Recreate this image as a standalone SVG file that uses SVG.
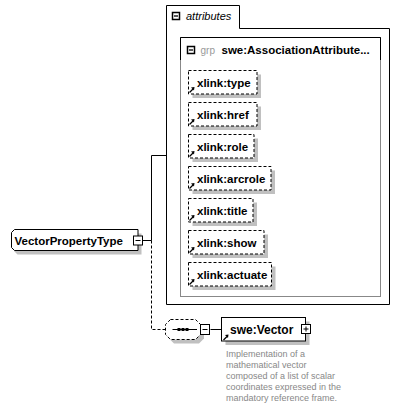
<svg xmlns="http://www.w3.org/2000/svg" width="400" height="408" viewBox="0 0 400 408">
<style>
.bg{fill:#ffffff}
.lbl{font-family:"Liberation Sans",Arial,sans-serif;font-weight:bold;font-size:11.5px;fill:#000}
.it{font-family:"Liberation Sans",Arial,sans-serif;font-style:italic;font-size:11px;fill:#000}
.grp{font-family:"Liberation Sans",Arial,sans-serif;font-size:10px;fill:#999}
.doc{font-family:"Liberation Sans",Arial,sans-serif;font-size:9px;fill:#888}
.attr{fill:#fff;stroke:#000;stroke-width:1;stroke-dasharray:3,2}
.shadow{fill:#c0c0c0}
.solid{fill:none;stroke:#000;stroke-width:1}
.dash{fill:none;stroke:#000;stroke-width:1;stroke-dasharray:3,2}
.btn{fill:#fff;stroke:#000;stroke-width:1}
</style>
<defs>
<g id="ref">
<path d="M0.5,5.5 L4,2" stroke="#000" stroke-width="1.2" fill="none"/>
<polygon points="2,0.5 5.5,0 5,3.5" fill="#000"/>
</g>
</defs>
<rect width="400" height="408" class="bg"/>

<g id="connectors">
<path class="solid" d="M142.5,240.5 H151.5 V155.5 H166.5"/>
<path class="dash" d="M151.5,240.5 V329.5 H165.5"/>
<path class="solid" d="M210.5,329.5 H221.5"/>
</g>

<g id="attributes">
<path class="solid" d="M166.5,5.5 H239.5 V28.5 H389.5 V304.5 H166.5 Z" fill="#fff"/>
<rect x="172.5" y="12.5" width="7" height="7" fill="#fff" stroke="#000" stroke-width="1.5"/>
<line x1="174" y1="16" x2="178" y2="16" stroke="#000" stroke-width="1.3"/>
<text class="it" x="186" y="20">attributes</text>
</g>

<g id="group">
<rect x="180.5" y="37.5" width="200" height="259" fill="#fff" stroke="#888" stroke-width="1"/>
<path class="solid" d="M180.5,60 V37.5 H380.5 V60"/>
<rect x="187.5" y="46.5" width="7" height="7" fill="#fff" stroke="#000" stroke-width="1.5"/>
<line x1="189" y1="50" x2="193" y2="50" stroke="#000" stroke-width="1.3"/>
<text class="grp" x="200.5" y="54">grp</text>
<text class="lbl" x="221.5" y="54">swe:AssociationAttribute...</text>
</g>

<g id="xlink-type">
<rect class="shadow" x="192.5" y="74.5" width="68.5" height="23.5"/>
<rect class="attr" x="188.5" y="70.5" width="68.5" height="23.5"/>
<use href="#ref" x="189" y="87"/>
<text class="lbl" x="197" y="86.5">xlink:type</text>
</g>
<g id="xlink-href">
<rect class="shadow" x="192.5" y="106.5" width="68.5" height="23.5"/>
<rect class="attr" x="188.5" y="102.5" width="68.5" height="23.5"/>
<use href="#ref" x="189" y="119"/>
<text class="lbl" x="197" y="118.5">xlink:href</text>
</g>
<g id="xlink-role">
<rect class="shadow" x="192.5" y="138.5" width="65.5" height="23.5"/>
<rect class="attr" x="188.5" y="134.5" width="65.5" height="23.5"/>
<use href="#ref" x="189" y="151"/>
<text class="lbl" x="197" y="150.5">xlink:role</text>
</g>
<g id="xlink-arcrole">
<rect class="shadow" x="192.5" y="170.5" width="82.5" height="23.5"/>
<rect class="attr" x="188.5" y="166.5" width="82.5" height="23.5"/>
<use href="#ref" x="189" y="183"/>
<text class="lbl" x="197" y="182.5">xlink:arcrole</text>
</g>
<g id="xlink-title">
<rect class="shadow" x="192.5" y="202.5" width="64.5" height="23.5"/>
<rect class="attr" x="188.5" y="198.5" width="64.5" height="23.5"/>
<use href="#ref" x="189" y="215"/>
<text class="lbl" x="197" y="214.5">xlink:title</text>
</g>
<g id="xlink-show">
<rect class="shadow" x="192.5" y="234.5" width="75.5" height="23.5"/>
<rect class="attr" x="188.5" y="230.5" width="75.5" height="23.5"/>
<use href="#ref" x="189" y="247"/>
<text class="lbl" x="197" y="246.5">xlink:show</text>
</g>
<g id="xlink-actuate">
<rect class="shadow" x="192.5" y="266.5" width="83" height="23.5"/>
<rect class="attr" x="188.5" y="262.5" width="83" height="23.5"/>
<use href="#ref" x="189" y="279"/>
<text class="lbl" x="197" y="278.5">xlink:actuate</text>
</g>

<g id="VectorPropertyType">
<path class="shadow" d="M17.5,233.5 H141.5 V254.5 H17.5 L14.5,251.5 V236.5 Z"/>
<path d="M14.5,229.5 H138 V250.5 H14.5 L11.5,247.5 V232.5 Z" fill="#fff" stroke="#000" stroke-width="1"/>
<text class="lbl" x="14.5" y="244.5">VectorPropertyType</text>
<rect class="btn" x="133.5" y="236" width="9" height="9"/>
<line x1="135.5" y1="240.5" x2="140.5" y2="240.5" stroke="#000"/>
</g>

<g id="sequence">
<path class="shadow" d="M174,323.5 H199 L204,328.5 V338.5 L199,343.5 H174 L169,338.5 V328.5 Z"/>
<path d="M170.5,319.5 H195.5 L200.5,324.5 V334.5 L195.5,339.5 H170.5 L165.5,334.5 V324.5 Z" fill="#fff" stroke="#000" stroke-width="1" stroke-dasharray="3,2"/>
<line x1="172.5" y1="329.5" x2="197" y2="329.5" stroke="#000"/>
<rect x="177.5" y="328" width="3" height="3" fill="#000"/>
<rect x="181.5" y="328" width="3" height="3" fill="#000"/>
<rect x="185.5" y="328" width="3" height="3" fill="#000"/>
<rect class="btn" x="200.5" y="324.5" width="9" height="10"/>
<line x1="202.5" y1="329.5" x2="207.5" y2="329.5" stroke="#000"/>
</g>

<g id="swe-Vector">
<rect class="shadow" x="225.5" y="321.5" width="84" height="23.5"/>
<rect x="221.5" y="317.5" width="84" height="23.5" fill="#fff" stroke="#000" stroke-width="1"/>
<use href="#ref" x="223" y="334.5"/>
<text class="lbl" x="230" y="333.5" style="font-size:12px">swe:Vector</text>
<rect class="btn" x="301.5" y="324.5" width="9" height="9"/>
<line x1="303.5" y1="329" x2="308.5" y2="329" stroke="#000"/>
<line x1="306" y1="326.5" x2="306" y2="331.5" stroke="#000"/>
<text class="doc" x="226" y="356.5">Implementation of a</text>
<text class="doc" x="226" y="367.7">mathematical vector</text>
<text class="doc" x="226" y="378.9">composed of a list of scalar</text>
<text class="doc" x="226" y="390.1">coordinates expressed in the</text>
<text class="doc" x="226" y="401.3">mandatory reference frame.</text>
</g>
</svg>
